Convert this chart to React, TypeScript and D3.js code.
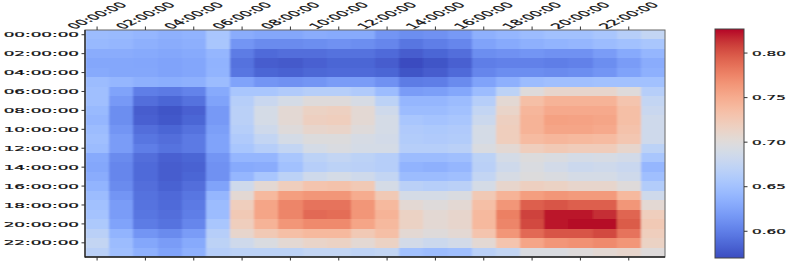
import * as d3 from 'd3';

// hour labels shared by both axes
const hours: string[] = d3.range(24).map(h => `${String(h).padStart(2, '0')}:00:00`);
const xTickHours = [0, 2, 4, 6, 8, 10, 12, 14, 16, 18, 20, 22];
const yTickHours = [0, 2, 4, 6, 8, 10, 12, 14, 16, 18, 20, 22];
const colorbarTicks = [0.6, 0.65, 0.7, 0.75, 0.8];

// rows = y hour, columns = x hour
const grid: number[][] = [
  [0.645, 0.643, 0.640, 0.635, 0.637, 0.655, 0.632, 0.628, 0.628, 0.632, 0.630, 0.630, 0.615, 0.610, 0.612, 0.618, 0.635, 0.640, 0.645, 0.650, 0.650, 0.655, 0.665, 0.675],
  [0.642, 0.640, 0.635, 0.632, 0.634, 0.655, 0.615, 0.608, 0.608, 0.610, 0.612, 0.610, 0.605, 0.595, 0.600, 0.605, 0.625, 0.630, 0.635, 0.638, 0.640, 0.645, 0.650, 0.655],
  [0.632, 0.632, 0.630, 0.628, 0.630, 0.640, 0.598, 0.588, 0.590, 0.590, 0.592, 0.592, 0.588, 0.580, 0.585, 0.590, 0.610, 0.612, 0.615, 0.612, 0.612, 0.620, 0.630, 0.640],
  [0.628, 0.628, 0.627, 0.625, 0.627, 0.637, 0.592, 0.580, 0.578, 0.582, 0.585, 0.585, 0.580, 0.570, 0.575, 0.582, 0.600, 0.602, 0.602, 0.600, 0.602, 0.610, 0.620, 0.632],
  [0.630, 0.628, 0.628, 0.625, 0.627, 0.638, 0.595, 0.585, 0.583, 0.586, 0.588, 0.588, 0.585, 0.575, 0.580, 0.588, 0.605, 0.610, 0.610, 0.608, 0.610, 0.615, 0.625, 0.635],
  [0.645, 0.640, 0.635, 0.633, 0.635, 0.645, 0.625, 0.615, 0.612, 0.615, 0.620, 0.620, 0.612, 0.598, 0.600, 0.608, 0.625, 0.635, 0.645, 0.648, 0.648, 0.650, 0.650, 0.650],
  [0.648, 0.625, 0.600, 0.597, 0.603, 0.630, 0.655, 0.655, 0.660, 0.665, 0.665, 0.660, 0.645, 0.620, 0.622, 0.628, 0.645, 0.670, 0.700, 0.710, 0.710, 0.710, 0.700, 0.665],
  [0.648, 0.618, 0.590, 0.585, 0.592, 0.625, 0.665, 0.680, 0.690, 0.700, 0.700, 0.692, 0.670, 0.640, 0.640, 0.645, 0.665, 0.705, 0.735, 0.745, 0.745, 0.745, 0.730, 0.675],
  [0.643, 0.610, 0.580, 0.575, 0.582, 0.618, 0.668, 0.690, 0.705, 0.715, 0.717, 0.705, 0.685, 0.645, 0.645, 0.650, 0.675, 0.712, 0.742, 0.752, 0.752, 0.752, 0.735, 0.680],
  [0.640, 0.610, 0.582, 0.577, 0.585, 0.618, 0.668, 0.690, 0.705, 0.718, 0.720, 0.705, 0.690, 0.655, 0.652, 0.655, 0.682, 0.718, 0.745, 0.758, 0.757, 0.755, 0.735, 0.685],
  [0.645, 0.615, 0.590, 0.585, 0.592, 0.622, 0.665, 0.685, 0.700, 0.710, 0.712, 0.700, 0.690, 0.660, 0.658, 0.660, 0.690, 0.720, 0.745, 0.755, 0.755, 0.752, 0.732, 0.685],
  [0.648, 0.620, 0.595, 0.590, 0.597, 0.625, 0.660, 0.675, 0.690, 0.698, 0.698, 0.692, 0.688, 0.662, 0.660, 0.662, 0.690, 0.720, 0.738, 0.742, 0.740, 0.738, 0.728, 0.685],
  [0.645, 0.620, 0.600, 0.593, 0.597, 0.625, 0.655, 0.665, 0.675, 0.690, 0.695, 0.690, 0.690, 0.665, 0.665, 0.668, 0.695, 0.705, 0.720, 0.725, 0.722, 0.722, 0.710, 0.670],
  [0.630, 0.608, 0.590, 0.582, 0.585, 0.615, 0.640, 0.640, 0.655, 0.670, 0.675, 0.670, 0.665, 0.645, 0.645, 0.648, 0.670, 0.690, 0.698, 0.695, 0.690, 0.692, 0.688, 0.655],
  [0.628, 0.605, 0.588, 0.580, 0.583, 0.612, 0.630, 0.632, 0.650, 0.665, 0.670, 0.668, 0.665, 0.637, 0.635, 0.640, 0.668, 0.685, 0.695, 0.688, 0.682, 0.685, 0.680, 0.640],
  [0.632, 0.605, 0.588, 0.580, 0.585, 0.612, 0.640, 0.655, 0.670, 0.685, 0.690, 0.685, 0.675, 0.645, 0.645, 0.648, 0.675, 0.692, 0.698, 0.695, 0.690, 0.690, 0.685, 0.648],
  [0.638, 0.608, 0.590, 0.583, 0.590, 0.625, 0.685, 0.705, 0.720, 0.730, 0.732, 0.725, 0.690, 0.668, 0.665, 0.668, 0.690, 0.710, 0.718, 0.715, 0.710, 0.710, 0.700, 0.662],
  [0.645, 0.615, 0.592, 0.587, 0.595, 0.640, 0.705, 0.740, 0.760, 0.765, 0.765, 0.750, 0.725, 0.690, 0.690, 0.695, 0.725, 0.745, 0.760, 0.765, 0.762, 0.762, 0.740, 0.685],
  [0.650, 0.620, 0.593, 0.588, 0.597, 0.645, 0.720, 0.755, 0.775, 0.785, 0.785, 0.765, 0.740, 0.705, 0.700, 0.705, 0.735, 0.765, 0.795, 0.800, 0.795, 0.795, 0.765, 0.705],
  [0.652, 0.620, 0.595, 0.590, 0.600, 0.645, 0.725, 0.755, 0.775, 0.790, 0.788, 0.765, 0.745, 0.715, 0.705, 0.710, 0.740, 0.778, 0.808, 0.822, 0.822, 0.815, 0.792, 0.720],
  [0.658, 0.625, 0.598, 0.593, 0.605, 0.655, 0.720, 0.745, 0.765, 0.772, 0.772, 0.755, 0.740, 0.715, 0.705, 0.710, 0.740, 0.775, 0.805, 0.822, 0.826, 0.826, 0.797, 0.725],
  [0.668, 0.638, 0.615, 0.608, 0.620, 0.665, 0.710, 0.725, 0.735, 0.740, 0.740, 0.725, 0.735, 0.705, 0.700, 0.705, 0.730, 0.765, 0.790, 0.800, 0.800, 0.805, 0.785, 0.720],
  [0.675, 0.645, 0.628, 0.620, 0.630, 0.670, 0.685, 0.695, 0.705, 0.712, 0.715, 0.705, 0.715, 0.688, 0.682, 0.688, 0.705, 0.730, 0.755, 0.765, 0.768, 0.772, 0.765, 0.715],
  [0.668, 0.648, 0.635, 0.625, 0.635, 0.665, 0.670, 0.670, 0.670, 0.675, 0.675, 0.672, 0.675, 0.650, 0.645, 0.648, 0.668, 0.675, 0.695, 0.695, 0.700, 0.705, 0.710, 0.700],
];

// matplotlib "coolwarm" stops
const coolwarm = [
  '#3b4cc0', '#4d68d7', '#6282ea', '#779af7', '#8db0fe', '#a3c2ff', '#b8d0f9', '#ccd9ee',
  '#dddddd', '#ecd3c5', '#f5c4ad', '#f7b194', '#f49a7b', '#ec7f63', '#de604d', '#cb3e38', '#b40426',
];

const VMIN = 0.57;
const VMAX = 0.827;

const FONT = 'DejaVu Sans, sans-serif';
const SX = 2.1; // picture is stretched horizontally
const SY = 0.95;

export default function App() {
  const W = 793;
  const H = 262;
  const left = 85, right = 665, top = 30, bottom = 257;

  const x = d3.scaleBand<number>().domain(d3.range(24)).range([left, right]);
  const y = d3.scaleBand<number>().domain(d3.range(24)).range([top, bottom]);
  const interp = d3.interpolateRgbBasis(coolwarm);
  const color = d3.scaleSequential(interp).domain([VMIN, VMAX]).clamp(true);

  const cbLeft = 715, cbRight = 744, cbTop = 29, cbBottom = 258;
  const cy = d3.scaleLinear().domain([VMIN, VMAX]).range([cbBottom, cbTop]);
  const cbSteps = d3.range(0, 1.0001, 1 / 64);

  const textStyle = {
    fontFamily: FONT,
    fontSize: 8,
    fill: '#111',
    stroke: '#111',
    strokeWidth: 0.25,
  };

  return (
    <svg width={W} height={H} style={{ position: 'absolute', left: 0, top: 0, background: '#fff' }}>
      <defs>
        <linearGradient id="cbGrad" x1="0" y1="1" x2="0" y2="0">
          {cbSteps.map((t, i) => (
            <stop key={i} offset={t} stopColor={interp(t)} />
          ))}
        </linearGradient>
        <clipPath id="plotClip">
          <rect x={left} y={top} width={right - left} height={bottom - top} />
        </clipPath>
        <filter id="soft" x="-2%" y="-2%" width="104%" height="104%">
          <feGaussianBlur stdDeviation="0.9 0.5" />
        </filter>
      </defs>

      {/* cells */}
      <g clipPath="url(#plotClip)">
        <g filter="url(#soft)" shapeRendering="crispEdges">
          {grid.map((row, r) =>
            row.map((v, c) => (
              <rect key={`${r}-${c}`} x={x(c)!} y={y(r)!} width={x.bandwidth() + 0.6} height={y.bandwidth() + 0.6} fill={color(v)} />
            ))
          )}
        </g>
      </g>

      {/* frame */}
      <rect x={left} y={top} width={right - left} height={bottom - top} fill="none" stroke="#666" strokeWidth={1} />
      <line x1={left} x2={left} y1={top} y2={bottom + 0.5} stroke="#222" strokeWidth={1.3} />
      <line x1={left} x2={right} y1={bottom} y2={bottom} stroke="#222" strokeWidth={1.3} />

      {/* x ticks: top labels, marks on top and bottom */}
      {xTickHours.map(h => {
        const cx = x(h)! + x.bandwidth() / 2;
        return (
          <g key={`xt${h}`}>
            <line x1={cx} x2={cx} y1={top - 3.5} y2={top} stroke="#333" />
            <line x1={cx} x2={cx} y1={bottom} y2={bottom + 3.5} stroke="#333" />
            <text
              transform={`translate(${cx},15.5) scale(${SX},${SY}) rotate(-45)`}
              textAnchor="middle"
              dominantBaseline="central"
              {...textStyle}
            >
              {hours[h]}
            </text>
          </g>
        );
      })}

      {/* y ticks */}
      {yTickHours.map(h => {
        const cyy = y(h)! + y.bandwidth() / 2;
        return (
          <g key={`yt${h}`}>
            <line x1={left - 3.5} x2={left} y1={cyy} y2={cyy} stroke="#333" />
            <text
              transform={`translate(${left - 6},${cyy}) scale(${SX},${SY})`}
              textAnchor="end"
              dominantBaseline="central"
              {...textStyle}
            >
              {hours[h]}
            </text>
          </g>
        );
      })}

      {/* colorbar */}
      <rect x={cbLeft} y={cbTop} width={cbRight - cbLeft} height={cbBottom - cbTop} fill="url(#cbGrad)" stroke="#444" strokeWidth={1} />
      {colorbarTicks.map(v => (
        <g key={`cb${v}`}>
          <line x1={cbRight} x2={cbRight + 3.5} y1={cy(v)} y2={cy(v)} stroke="#333" />
          <text
            transform={`translate(${cbRight + 8},${cy(v)}) scale(1.9,${SY})`}
            dominantBaseline="central"
            {...textStyle}
          >
            {v.toFixed(2)}
          </text>
        </g>
      ))}
    </svg>
  );
}
